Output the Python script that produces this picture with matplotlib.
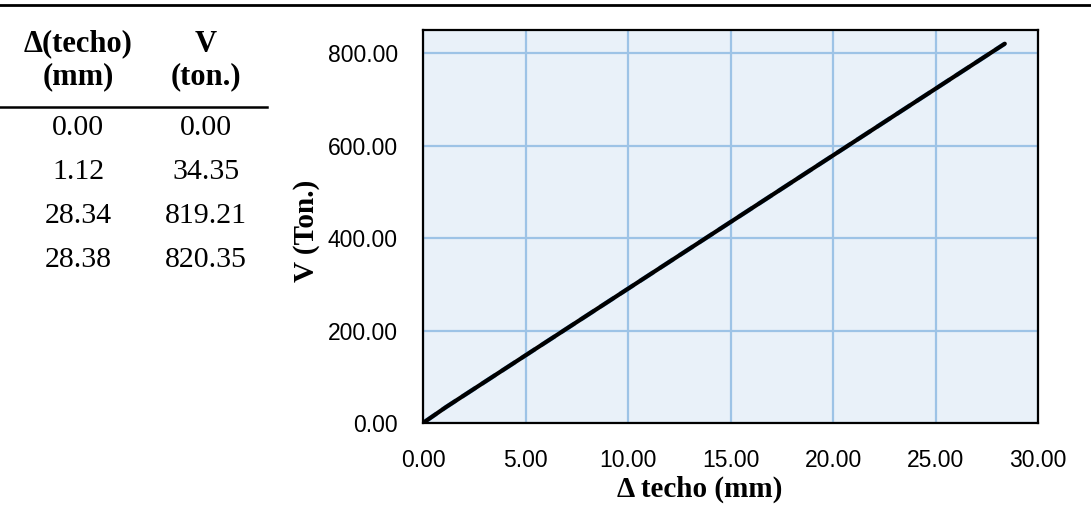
import matplotlib
matplotlib.use('Agg')
import matplotlib.pyplot as plt
from matplotlib.lines import Line2D

# data (table + curve)
delta_mm = [0.00, 1.12, 28.34, 28.38]
v_ton = [0.00, 34.35, 819.21, 820.35]
col_headers = [('Δ(techo)', '(mm)'), ('V', '(ton.)')]
x_ticks = [0, 5, 10, 15, 20, 25, 30]
y_ticks = [0, 200, 400, 600, 800]

W, H = 1091, 508
serif = 'Liberation Serif'
sans = 'Liberation Sans'

fig = plt.figure(figsize=(W / 100, H / 100), dpi=100)

def px(x, y):
    # pixel position (from top-left) -> figure fraction
    return x / W, 1 - y / H

# top rule across the whole figure
fig.add_artist(Line2D([0, 1], [1 - 5 / H] * 2, color='black', lw=2))

# ---- table on the left ----
col_x = [78, 206]
for cx, (h1, h2) in zip(col_x, col_headers):
    fig.text(*px(cx, 44), h1, ha='center', va='center', family=serif,
             fontweight='bold', fontsize=22)
    fig.text(*px(cx, 77), h2, ha='center', va='center', family=serif,
             fontweight='bold', fontsize=22)
fig.add_artist(Line2D([0, 267 / W], [1 - 107 / H] * 2, color='black', lw=1.8))

row_y = [128, 172, 216, 260]
for ry, d, v in zip(row_y, delta_mm, v_ton):
    fig.text(*px(col_x[0], ry), f'{d:.2f}', ha='center', va='center',
             family=serif, fontsize=21.5)
    fig.text(*px(col_x[1], ry), f'{v:.2f}', ha='center', va='center',
             family=serif, fontsize=21.5)

# ---- chart ----
ax = fig.add_axes([423 / W, 1 - 423 / H, 615 / W, 393 / H])
ax.set_facecolor('#E9F1F9')
ax.plot(delta_mm, v_ton, color='#5B9BD5', lw=3.2, ls='--', zorder=2)
ax.plot(delta_mm, v_ton, color='black', lw=3, solid_capstyle='round', zorder=3)

ax.set_xlim(0, 30)
ax.set_ylim(0, 850)
ax.set_xticks(x_ticks)
ax.set_yticks(y_ticks)
ax.set_xticklabels([f'{t:.2f}' for t in x_ticks])
ax.set_yticklabels([f'{t:.2f}' for t in y_ticks])
ax.grid(True, color='#9DC3E6', lw=1.6)
ax.set_axisbelow(True)
ax.tick_params(length=0, labelsize=16.5)
ax.tick_params(axis='x', pad=19)
ax.tick_params(axis='y', pad=18)
for lab in ax.get_xticklabels() + ax.get_yticklabels():
    lab.set_family(sans)
for sp in ax.spines.values():
    sp.set_linewidth(1.6)
    sp.set_color('black')

# axis titles (placed like the original, x title sits left of centre)
fig.text(*px(700, 489), 'Δ techo (mm)', ha='center', va='center', family=serif,
         fontweight='bold', fontsize=21)
fig.text(*px(307, 231), 'V (Ton.)', ha='center', va='center', rotation=90,
         family=serif, fontweight='bold', fontsize=21)

fig.savefig('out.png', dpi=100)
